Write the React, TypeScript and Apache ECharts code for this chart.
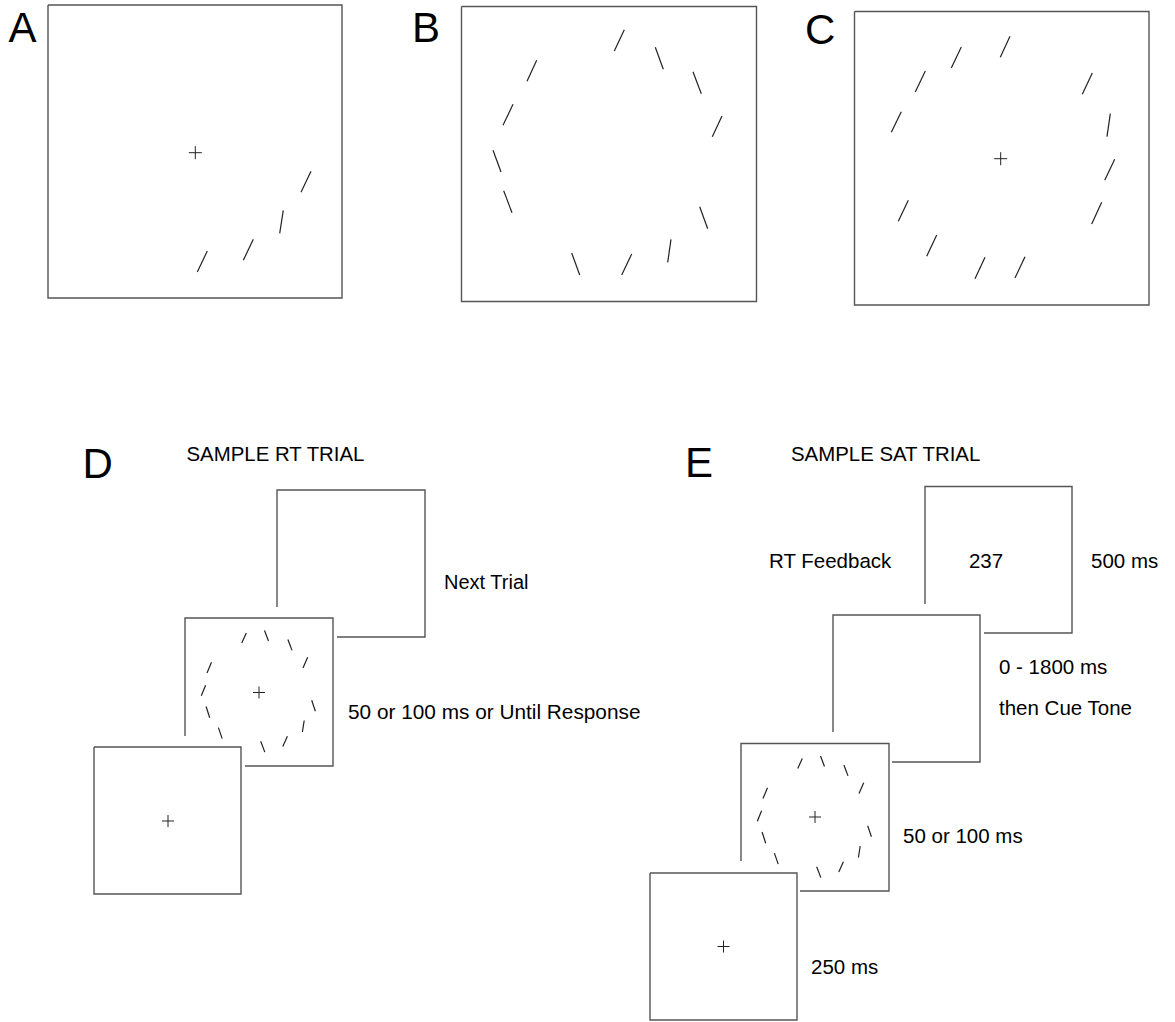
import React, { useEffect, useRef } from "react";
import * as echarts from "echarts";

const W = 1175;
const H = 1022;
const FONT = '"Liberation Sans", Arial, Helvetica, sans-serif';

// Line-segment stimuli (x1, y1, x2, y2) in page units
const segA = [
  [311, 171.3, 301, 192.3],
  [283.3, 210.3, 279.7, 233.3],
  [253.3, 239.3, 243.3, 260.3],
  [207.3, 251, 197.3, 272],
];
const segB = [
  [624.3, 29.7, 614.3, 51],
  [655.3, 47.3, 663.3, 69.3],
  [693, 71.7, 701.3, 93.7],
  [722, 116, 712.3, 136.7],
  [536.7, 60.3, 527, 81.3],
  [513, 104.3, 503, 125.3],
  [493, 150.3, 501, 172],
  [503.7, 190.7, 512, 212.7],
  [699.7, 206.7, 707.7, 228.7],
  [671, 239.3, 667.7, 262.3],
  [631.7, 254, 621.7, 275],
  [571.7, 253, 579.7, 275],
];
const segC = [
  [1010, 36.3, 1000.3, 57.3],
  [961.3, 47, 951.3, 68],
  [925.3, 71, 915.3, 92],
  [901.3, 111.7, 891.3, 132.3],
  [1092.3, 73, 1082.3, 94.3],
  [1110.3, 113.7, 1107, 136.7],
  [1114.7, 159.3, 1104.7, 180.3],
  [1101.7, 202.3, 1091.7, 224],
  [908.3, 200.3, 898.3, 221.3],
  [936.7, 235, 926.7, 256.3],
  [985, 257.3, 975, 278.7],
  [1025, 256.7, 1015, 278],
];
// Sample-trial stimulus pattern, relative to its frame's top-left corner
const stimPattern = [
  [61.3, 15, 56.75, 25],
  [79.5, 12.5, 83.5, 23],
  [102.9, 21.5, 107, 32.4],
  [122.7, 39.2, 118, 49.9],
  [26.5, 44.2, 22, 55],
  [20.6, 67.2, 16.3, 77.8],
  [21.1, 88.5, 24.7, 99.8],
  [126.7, 82.2, 130.4, 93.2],
  [119.2, 102.5, 117.4, 114],
  [102.4, 118.3, 97.8, 128.5],
  [75.7, 123.3, 79.8, 134.1],
  [33.4, 109.6, 37.2, 120.6],
];
const stimOrigins = [
  [185, 618],
  [741, 743.5],
];

// Frames: [left, top, right, bottom, leftEdgeEndY (or null = closed), bottomEdgeStartX]
const frames = [
  [48, 5, 342, 298, null, null],
  [461.5, 6.5, 756.5, 301.5, null, null],
  [854.5, 11.5, 1149, 305, null, null],
  [94, 747, 241, 894, null, null],
  [185, 618, 333, 766, 736, 245],
  [277, 490, 425, 637, 607, 337],
  [650, 873, 797, 1020, null, null],
  [741, 743.5, 889, 891, 861, 800],
  [833, 615, 980, 762, 732, 892],
  [925, 486.5, 1072, 633, 604, 984],
];

// Fixation crosses: [cx, cy, halfArm]
const crosses = [
  [195.3, 152.7, 6.5],
  [1000.7, 158.7, 6.5],
  [259, 692.5, 6],
  [168, 821, 6],
  [815, 817, 6],
  [723.5, 946.5, 6],
];

// Texts
const labelTexts = [
  "A", "B", "C", "D", "E",
  "SAMPLE RT TRIAL", "SAMPLE SAT TRIAL",
  "Next Trial", "50 or 100 ms or Until Response",
  "RT Feedback", "237", "500 ms",
  "0 - 1800 ms", "then Cue Tone", "50 or 100 ms", "250 ms",
];
const labelPos = [
  [8.5, 27], [412, 27], [805, 29], [82.5, 463], [685, 462],
  [186.5, 454], [791, 454],
  [444, 582], [348, 711.5],
  [769, 560], [986, 560], [1091, 560],
  [999, 666], [999, 707], [903, 835], [811, 966],
];
const labelSize = [42, 42, 42, 42, 42, 20.4, 20.4, 20, 20.8, 20.5, 20.5, 20.5, 20.5, 20.5, 20.5, 20.5];
const labelAlign = ["left", "left", "left", "left", "left", "left", "left", "left", "left", "left", "center", "left", "left", "left", "left", "left"];

const allSegments: number[][] = [
  ...segA,
  ...segB,
  ...segC,
  ...stimOrigins.flatMap(([ox, oy]) =>
    stimPattern.map(([a, b, c, d]) => [ox + a, oy + b, ox + c, oy + d])
  ),
];

export default function App() {
  const ref = useRef<HTMLDivElement>(null);
  useEffect(() => {
    if (!ref.current) return;
    const chart = echarts.init(ref.current, undefined, { renderer: "svg" });
    chart.setOption({
      animation: false,
      backgroundColor: "#ffffff",
      grid: { left: 0, right: 0, top: 0, bottom: 0, containLabel: false },
      xAxis: { type: "value", min: 0, max: W, show: false },
      yAxis: { type: "value", min: 0, max: H, inverse: true, show: false },
      series: [
        {
          type: "custom",
          name: "frames",
          coordinateSystem: "cartesian2d",
          data: frames.map((f, i) => [f[0], f[1], i]),
          renderItem: (params: any, api: any) => {
            const f = frames[params.dataIndex];
            const [l, t, r, b, le, bs] = f as any[];
            let pts: number[][];
            if (le == null) {
              pts = [[l, t], [r, t], [r, b], [l, b], [l, t]];
            } else {
              pts = [[l, le], [l, t], [r, t], [r, b], [bs, b]];
            }
            return {
              type: "polyline",
              shape: { points: pts.map((p) => api.coord(p)) },
              style: { stroke: "#555555", lineWidth: 1.4, fill: null },
            };
          },
          silent: true,
          z: 1,
        },
        {
          type: "custom",
          name: "segments",
          coordinateSystem: "cartesian2d",
          data: allSegments,
          renderItem: (params: any, api: any) => {
            const p1 = api.coord([api.value(0), api.value(1)]);
            const p2 = api.coord([api.value(2), api.value(3)]);
            return {
              type: "line",
              shape: { x1: p1[0], y1: p1[1], x2: p2[0], y2: p2[1] },
              style: { stroke: "#222222", lineWidth: 1.2 },
            };
          },
          silent: true,
          z: 2,
        },
        {
          type: "custom",
          name: "crosses",
          coordinateSystem: "cartesian2d",
          data: crosses,
          renderItem: (params: any, api: any) => {
            const cx = api.value(0);
            const cy = api.value(1);
            const h = api.value(2);
            const a = api.coord([cx - h, cy]);
            const b = api.coord([cx + h, cy]);
            const c = api.coord([cx, cy - h]);
            const d = api.coord([cx, cy + h]);
            return {
              type: "group",
              children: [
                { type: "line", shape: { x1: a[0], y1: a[1], x2: b[0], y2: b[1] }, style: { stroke: "#222222", lineWidth: 1 } },
                { type: "line", shape: { x1: c[0], y1: c[1], x2: d[0], y2: d[1] }, style: { stroke: "#222222", lineWidth: 1 } },
              ],
            };
          },
          silent: true,
          z: 2,
        },
        {
          type: "custom",
          name: "labels",
          coordinateSystem: "cartesian2d",
          data: labelPos,
          renderItem: (params: any, api: any) => {
            const i = params.dataIndex;
            const p = api.coord([api.value(0), api.value(1)]);
            return {
              type: "text",
              x: p[0],
              y: p[1],
              style: {
                text: labelTexts[i],
                fill: "#000000",
                fontSize: labelSize[i],
                fontFamily: FONT,
                align: labelAlign[i],
                verticalAlign: "middle",
              },
            };
          },
          silent: true,
          z: 3,
        },
      ],
    });
    return () => chart.dispose();
  }, []);
  return (
    <div
      ref={ref}
      style={{ position: "absolute", left: 0, top: 0, width: W, height: H }}
    />
  );
}
